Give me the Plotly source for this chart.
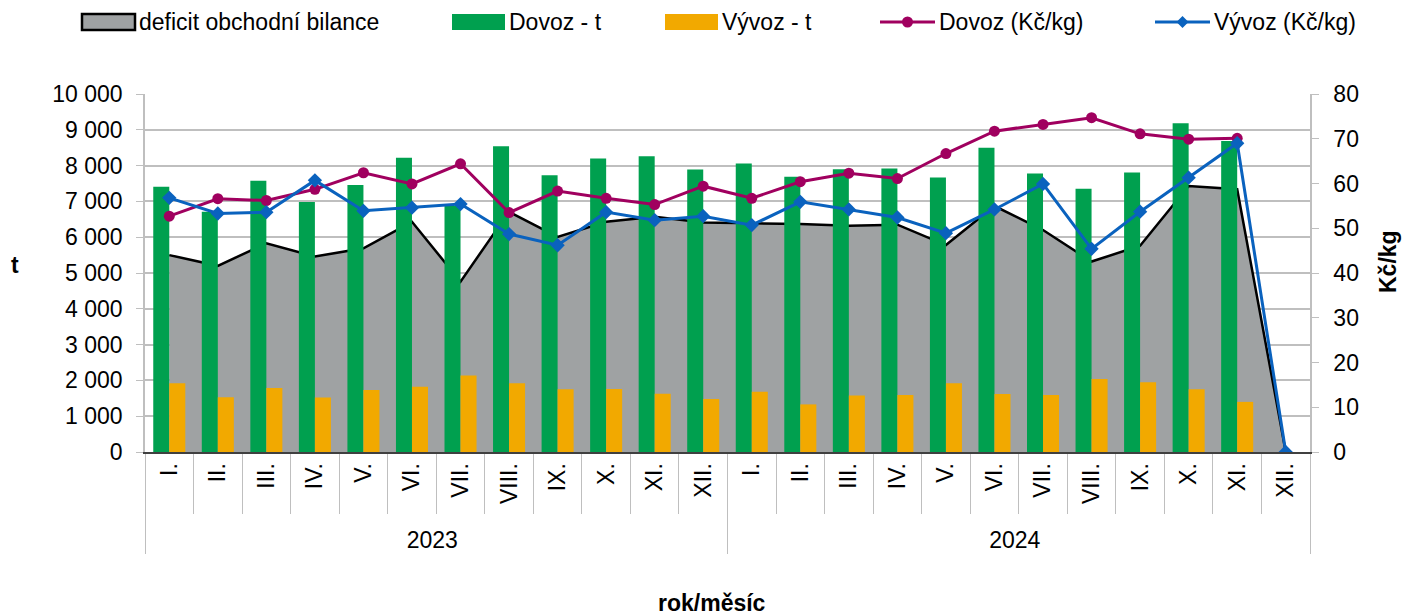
import plotly.graph_objects as go

# ---------------- data ----------------
years = ["2023"] * 12 + ["2024"] * 12
months = ["I.", "II.", "III.", "IV.", "V.", "VI.", "VII.", "VIII.", "IX.", "X.", "XI.", "XII."] * 2

deficit_t = [5500, 5200, 5830, 5460, 5690, 6430, 4760, 6710, 6010, 6430, 6570, 6410,
             6390, 6370, 6320, 6350, 5780, 6870, 6200, 5320, 5760, 7430, 7340, 0]
dovoz_t = [7410, 6710, 7580, 6980, 7460, 8220, 6870, 8540, 7730, 8200, 8260, 7890,
           8060, 7690, 7900, 7920, 7670, 8500, 7780, 7350, 7810, 9180, 8690, 0]
vyvoz_t = [1920, 1530, 1790, 1520, 1730, 1820, 2140, 1920, 1750, 1760, 1630, 1480,
           1680, 1330, 1580, 1590, 1920, 1620, 1590, 2040, 1950, 1750, 1400, 0]
dovoz_kc = [52.7, 56.6, 56.2, 58.7, 62.4, 59.9, 64.4, 53.5, 58.3, 56.7, 55.3, 59.4,
            56.7, 60.4, 62.3, 61.1, 66.7, 71.7, 73.2, 74.7, 71.1, 69.9, 70.1, None]
vyvoz_kc = [56.8, 53.3, 53.6, 60.7, 53.9, 54.6, 55.4, 48.7, 46.2, 53.6, 51.8, 52.7,
            50.7, 55.9, 54.2, 52.4, 48.9, 54.2, 59.9, 45.4, 53.7, 61.3, 69.0, 0]

left_ticks = list(range(0, 10001, 1000))
left_ticktext = ["0", "1 000", "2 000", "3 000", "4 000", "5 000", "6 000",
                 "7 000", "8 000", "9 000", "10 000"]
right_ticks = list(range(0, 81, 10))

names = ["deficit obchodní bilance", "Dovoz - t", "Vývoz - t", "Dovoz (Kč/kg)", "Vývoz (Kč/kg)"]

# ---------------- style ----------------
FONT = "Liberation Sans, Arial, sans-serif"
FS = 23
C_AREA = "#9FA2A3"
C_GREEN = "#00A04F"
C_ORANGE = "#F2A900"
C_MAG = "#A0005F"
C_BLUE = "#0A62BE"
C_GRID = "#BFBFBF"

W, H = 1402, 615
L, R, T, B = 145, 1310, 94, 452
PW, PH = R - L, B - T


def px(x):
    return (x - L) / PW


def py(y):
    return (B - y) / PH


x = [years, months]

fig = go.Figure()
fig.add_trace(go.Scatter(x=x, y=deficit_t, name=names[0], mode="lines",
                         fill="tozeroy", fillcolor=C_AREA,
                         line=dict(color="black", width=2.5),
                         yaxis="y", showlegend=False))
fig.add_trace(go.Bar(x=x, y=dovoz_t, name=names[1], marker_color=C_GREEN,
                     marker_line_width=0, yaxis="y2", showlegend=False))
fig.add_trace(go.Bar(x=x, y=vyvoz_t, name=names[2], marker_color=C_ORANGE,
                     marker_line_width=0, yaxis="y2", showlegend=False))
fig.add_trace(go.Scatter(x=x, y=dovoz_kc, name=names[3], mode="lines+markers",
                         line=dict(color=C_MAG, width=3),
                         marker=dict(symbol="circle", size=11, color=C_MAG),
                         yaxis="y3", showlegend=False))
fig.add_trace(go.Scatter(x=x, y=vyvoz_kc, name=names[4], mode="lines+markers",
                         line=dict(color=C_BLUE, width=3),
                         marker=dict(symbol="diamond", size=11, color=C_BLUE),
                         yaxis="y3", showlegend=False))

fig.update_layout(
    width=W, height=H,
    margin=dict(l=L, r=W - R, t=T, b=H - B, pad=0, autoexpand=False),
    paper_bgcolor="white", plot_bgcolor="white",
    font=dict(family=FONT, size=FS, color="black"),
    barmode="group", bargap=0.34, bargroupgap=0,
    showlegend=False,
    xaxis=dict(type="multicategory", range=[-0.5, 23.5], autorange=False,
               tickangle=-90, ticks="outside", ticklen=60,
               tickcolor=C_GRID, tickwidth=1, showdividers=True,
               dividercolor=C_GRID, dividerwidth=1,
               showline=True, linecolor="#404040", linewidth=2,
               showgrid=False, tickfont=dict(size=FS)),
    yaxis=dict(range=[0, 10000], tickvals=left_ticks, ticktext=left_ticktext,
               showgrid=True, gridcolor=C_GRID, gridwidth=1.5,
               showline=True, linecolor=C_GRID, linewidth=1.5,
               ticks="outside", ticklen=7, tickcolor=C_GRID,
               ticklabelstandoff=9, zeroline=False, fixedrange=True),
    yaxis2=dict(range=[0, 10000], overlaying="y", visible=False),
    yaxis3=dict(range=[0, 80], overlaying="y", side="right", tickvals=right_ticks,
                showgrid=False, showline=True, linecolor=C_GRID, linewidth=1.5,
                ticks="outside", ticklen=7, tickcolor=C_GRID,
                ticklabelstandoff=10, zeroline=False),
)

# axis titles
fig.add_annotation(text="<b>t</b>", x=px(15), y=py(265), xref="paper", yref="paper",
                   showarrow=False, xanchor="center", yanchor="middle", font=dict(size=FS))
fig.add_annotation(text="<b>Kč/kg</b>", x=px(1388), y=py(262), xref="paper", yref="paper",
                   showarrow=False, textangle=-90, xanchor="center", yanchor="middle",
                   font=dict(size=FS))
fig.add_annotation(text="<b>rok/měsíc</b>", x=px(712), y=py(603), xref="paper", yref="paper",
                   showarrow=False, xanchor="center", yanchor="middle", font=dict(size=FS))

# manual legend
ly = 22
sym = [(82, 135), (452, 505), (665, 718), (880, 935), (1155, 1210)]
fig.add_shape(type="rect", xref="paper", yref="paper",
              x0=px(sym[0][0]), x1=px(sym[0][1]), y0=py(ly - 8), y1=py(ly + 8),
              fillcolor=C_AREA, line=dict(color="black", width=2.5))
fig.add_shape(type="rect", xref="paper", yref="paper",
              x0=px(sym[1][0]), x1=px(sym[1][1]), y0=py(ly - 8), y1=py(ly + 8),
              fillcolor=C_GREEN, line=dict(width=0))
fig.add_shape(type="rect", xref="paper", yref="paper",
              x0=px(sym[2][0]), x1=px(sym[2][1]), y0=py(ly - 8), y1=py(ly + 8),
              fillcolor=C_ORANGE, line=dict(width=0))
fig.add_shape(type="line", xref="paper", yref="paper",
              x0=px(sym[3][0]), x1=px(sym[3][1]), y0=py(ly), y1=py(ly),
              line=dict(color=C_MAG, width=3))
cx = (sym[3][0] + sym[3][1]) / 2
fig.add_shape(type="circle", xref="paper", yref="paper",
              x0=px(cx - 5.5), x1=px(cx + 5.5), y0=py(ly - 5.5), y1=py(ly + 5.5),
              fillcolor=C_MAG, line=dict(width=0))
fig.add_shape(type="line", xref="paper", yref="paper",
              x0=px(sym[4][0]), x1=px(sym[4][1]), y0=py(ly), y1=py(ly),
              line=dict(color=C_BLUE, width=3))
dx = (sym[4][0] + sym[4][1]) / 2
d = 6
path = "M {},{} L {},{} L {},{} L {},{} Z".format(
    px(dx), py(ly - d), px(dx + d), py(ly), px(dx), py(ly + d), px(dx - d), py(ly))
fig.add_shape(type="path", xref="paper", yref="paper", path=path,
              fillcolor=C_BLUE, line=dict(width=0))
for (s0, s1), nm in zip(sym, names):
    fig.add_annotation(text=nm, x=px(s1 + 2), y=py(ly), xref="paper", yref="paper",
                       showarrow=False, xanchor="left", yanchor="middle",
                       font=dict(size=FS))

fig.write_html("out.html", config={"displayModeBar": False},
               post_script="document.body.style.margin='0';document.body.style.overflow='hidden';")
